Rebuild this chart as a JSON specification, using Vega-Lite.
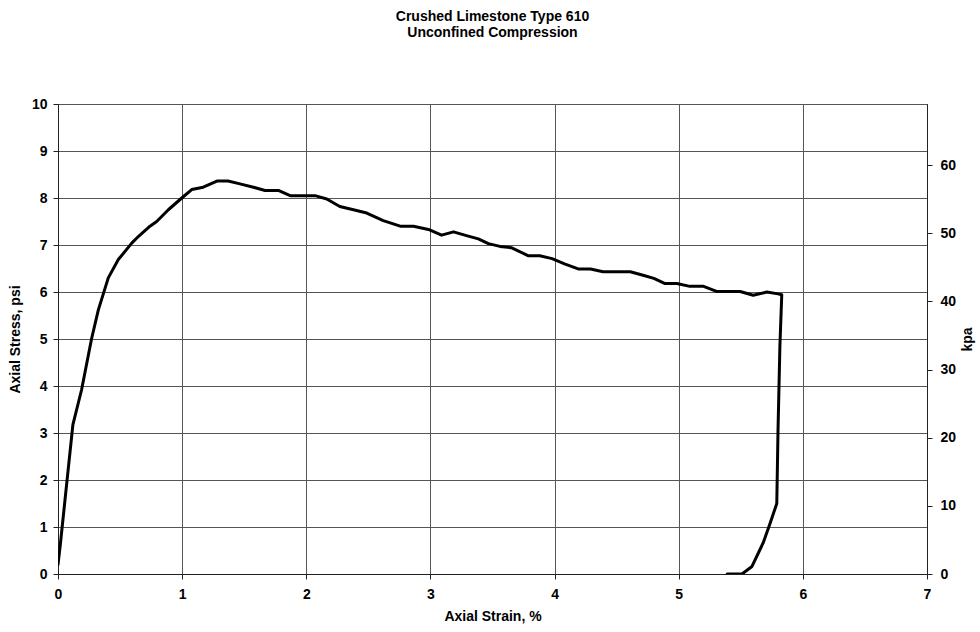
{
  "$schema": "https://vega.github.io/schema/vega-lite/v6.json",
  "width": 869,
  "height": 470,
  "autosize": {"type": "none"},
  "padding": {"left": 58, "top": 104, "right": 53, "bottom": 58},
  "background": "white",
  "config": {
    "font": "Liberation Sans",
    "view": {"stroke": "#222", "strokeWidth": 1},
    "axis": {"labelFont": "Liberation Sans", "labelFontWeight": "bold", "labelFontSize": 14, "labelColor": "black", "titleFont": "Liberation Sans", "titleFontWeight": "bold", "titleFontSize": 14, "titleColor": "black", "domainColor": "#222", "tickColor": "#222", "gridColor": "#555", "gridWidth": 1, "gridOpacity": 1}
  },
  "title": {
    "text": ["Crushed Limestone Type 610", "Unconfined Compression"],
    "font": "Liberation Sans",
    "fontSize": 14,
    "fontWeight": "bold",
    "color": "black",
    "anchor": "middle",
    "lineHeight": 16,
    "offset": 57
  },
  "data": {
    "values": [
      {"i": 1, "strain": 0, "psi": 0.2},
      {"i": 2, "strain": 0.02, "psi": 0.66},
      {"i": 3, "strain": 0.12, "psi": 3.18},
      {"i": 4, "strain": 0.19, "psi": 3.92},
      {"i": 5, "strain": 0.27, "psi": 5.0},
      {"i": 6, "strain": 0.325, "psi": 5.62},
      {"i": 7, "strain": 0.405, "psi": 6.3},
      {"i": 8, "strain": 0.486, "psi": 6.69},
      {"i": 9, "strain": 0.594, "psi": 7.04},
      {"i": 10, "strain": 0.647, "psi": 7.18},
      {"i": 11, "strain": 0.741, "psi": 7.4},
      {"i": 12, "strain": 0.795, "psi": 7.5},
      {"i": 13, "strain": 0.889, "psi": 7.75},
      {"i": 14, "strain": 0.997, "psi": 8.0},
      {"i": 15, "strain": 1.077, "psi": 8.18},
      {"i": 16, "strain": 1.17, "psi": 8.23},
      {"i": 17, "strain": 1.28, "psi": 8.36},
      {"i": 18, "strain": 1.37, "psi": 8.36},
      {"i": 19, "strain": 1.466, "psi": 8.3},
      {"i": 20, "strain": 1.574, "psi": 8.23},
      {"i": 21, "strain": 1.668, "psi": 8.16},
      {"i": 22, "strain": 1.775, "psi": 8.16},
      {"i": 23, "strain": 1.87, "psi": 8.05},
      {"i": 24, "strain": 2.07, "psi": 8.05},
      {"i": 25, "strain": 2.165, "psi": 7.98},
      {"i": 26, "strain": 2.27, "psi": 7.82},
      {"i": 27, "strain": 2.38, "psi": 7.75},
      {"i": 28, "strain": 2.487, "psi": 7.68},
      {"i": 29, "strain": 2.62, "psi": 7.52},
      {"i": 30, "strain": 2.756, "psi": 7.4},
      {"i": 31, "strain": 2.863, "psi": 7.4},
      {"i": 32, "strain": 2.984, "psi": 7.33},
      {"i": 33, "strain": 3.09, "psi": 7.21},
      {"i": 34, "strain": 3.186, "psi": 7.28},
      {"i": 35, "strain": 3.29, "psi": 7.2},
      {"i": 36, "strain": 3.386, "psi": 7.13},
      {"i": 37, "strain": 3.467, "psi": 7.03},
      {"i": 38, "strain": 3.56, "psi": 6.97},
      {"i": 39, "strain": 3.655, "psi": 6.94},
      {"i": 40, "strain": 3.79, "psi": 6.77},
      {"i": 41, "strain": 3.88, "psi": 6.77},
      {"i": 42, "strain": 3.98, "psi": 6.71},
      {"i": 43, "strain": 4.08, "psi": 6.6},
      {"i": 44, "strain": 4.19, "psi": 6.49},
      {"i": 45, "strain": 4.29, "psi": 6.49},
      {"i": 46, "strain": 4.39, "psi": 6.43},
      {"i": 47, "strain": 4.61, "psi": 6.43},
      {"i": 48, "strain": 4.72, "psi": 6.35},
      {"i": 49, "strain": 4.8, "psi": 6.29},
      {"i": 50, "strain": 4.89, "psi": 6.18},
      {"i": 51, "strain": 4.985, "psi": 6.18},
      {"i": 52, "strain": 5.09, "psi": 6.12},
      {"i": 53, "strain": 5.2, "psi": 6.12},
      {"i": 54, "strain": 5.31, "psi": 6.01},
      {"i": 55, "strain": 5.495, "psi": 6.01},
      {"i": 56, "strain": 5.6, "psi": 5.93},
      {"i": 57, "strain": 5.71, "psi": 6.0},
      {"i": 58, "strain": 5.8, "psi": 5.96},
      {"i": 59, "strain": 5.83, "psi": 5.94},
      {"i": 60, "strain": 5.815, "psi": 4.84},
      {"i": 61, "strain": 5.8, "psi": 3.07},
      {"i": 62, "strain": 5.79, "psi": 1.5},
      {"i": 63, "strain": 5.737, "psi": 1.085},
      {"i": 64, "strain": 5.68, "psi": 0.66},
      {"i": 65, "strain": 5.59, "psi": 0.16},
      {"i": 66, "strain": 5.51, "psi": 0},
      {"i": 67, "strain": 5.39, "psi": 0}
    ]
  },
  "layer": [
    {
      "mark": {"type": "line", "color": "black", "strokeWidth": 3, "strokeJoin": "round", "strokeCap": "round", "clip": true},
      "encoding": {
        "x": {"field": "strain", "type": "quantitative", "scale": {"domain": [0, 7], "nice": false},
          "axis": {"title": "Axial Strain, %", "values": [0,1,2,3,4,5,6,7], "format": "d", "grid": true, "tickSize": 5, "labelPadding": 8, "titlePadding": 8, "labelFlush": false}},
        "y": {"field": "psi", "type": "quantitative", "scale": {"domain": [0, 10], "nice": false},
          "axis": {"title": "Axial Stress, psi", "values": [0,1,2,3,4,5,6,7,8,9,10], "format": "d", "grid": true, "tickSize": 5, "labelPadding": 6, "titlePadding": 9, "labelFlush": false}},
        "order": {"field": "i", "type": "quantitative"}
      }
    },
    {
      "mark": {"type": "rule", "opacity": 0},
      "encoding": {
        "y": {"datum": 0, "type": "quantitative", "scale": {"domain": [0, 68.95], "nice": false},
          "axis": {"orient": "right", "title": "kpa", "values": [0,10,20,30,40,50,60], "format": "d", "grid": false, "tickSize": 5, "labelPadding": 8, "titleAngle": 270, "titlePadding": 19, "labelFlush": false}}
      }
    }
  ],
  "resolve": {"scale": {"y": "independent"}}
}
